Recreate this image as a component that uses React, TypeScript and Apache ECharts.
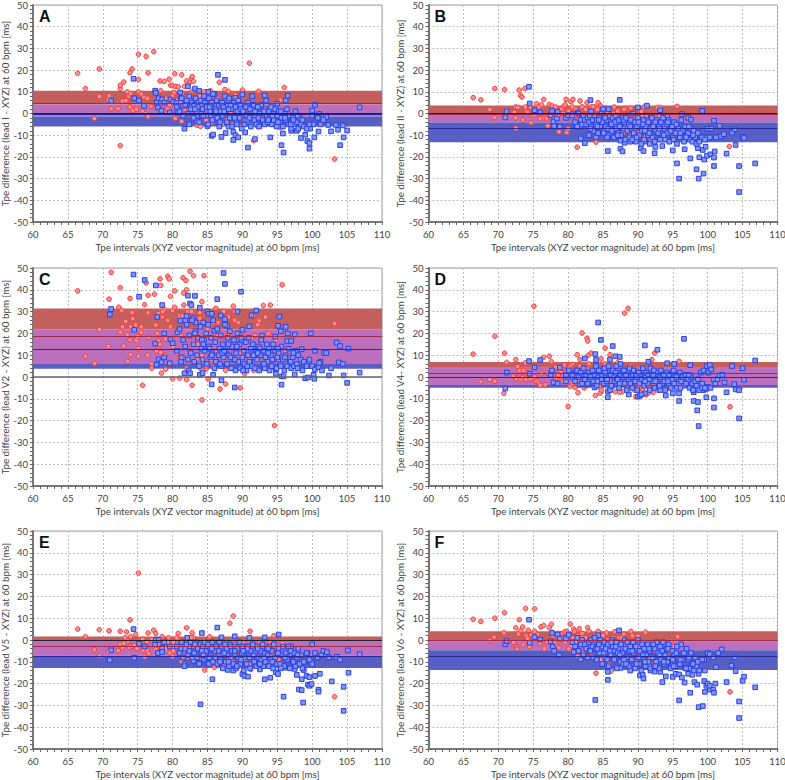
import React, { useEffect, useRef } from "react";
import * as echarts from "echarts";

type Pt = number[];

const panelLetters = ["A", "B", "C", "D", "E", "F"];
const yAxisTitles = [
  "Tpe difference (lead I - XYZ) at 60 bpm [ms]",
  "Tpe difference (lead II - XYZ) at 60 bpm [ms]",
  "Tpe difference (lead V2 - XYZ) at 60 bpm [ms]",
  "Tpe difference (lead V4- XYZ) at 60 bpm [ms]",
  "Tpe difference (lead V5 - XYZ) at 60 bpm [ms]",
  "Tpe difference (lead V6 - XYZ) at 60 bpm [ms]",
];
const xAxisTitle = "Tpe intervals (XYZ vector magnitude) at 60 bpm [ms]";

// redTop, purpleTop, purpleBottom, blueBottom, redMean, blueMean
const bandsA = [10.5, 4.1, -1.4, -6, 4.9, -0.5];
const bandsB = [3.7, -0.6, -4.1, -13.2, -0.2, -6.8];
const bandsC = [31.4, 21.9, 6, 3.8, 18.7, 12.9];
const bandsD = [6.9, 4.6, -3.7, -4.9, 1.7, -0.2];
const bandsE = [1.6, -0.5, -7.2, -12.9, -2.8, -7.3];
const bandsF = [4, -0.8, -4.7, -13.8, -0.2, -7.3];

const redCloudX = [
  77.8, 78.2, 78.6, 79, 79.3, 79.6, 80, 80.3, 80.6, 80.9,
  81.1, 81.4, 81.7, 82, 82.2, 82.5, 82.7, 83, 83.3, 83.6,
  83.9, 84.2, 84.5, 84.8, 85, 85.3, 85.6, 85.9, 86.2, 86.5,
  86.8, 87.1, 87.4, 87.7, 88, 88.3, 88.6, 88.9, 89.2, 89.5,
  89.8, 90.1, 90.4, 90.7, 91, 91.3, 91.6, 91.9, 92.2, 92.5,
  92.8, 93.1, 93.4, 93.7, 94, 94.4, 94.8, 95.2, 78, 80.1,
];
const redCloudA = [3,5,1,7,2,4,8,3,6,1, 5,9,2,7,4,9,3,7,1,5, 8,-1,5,-3,7,2,-4,5,-2,7, 0,-5,4,-3,6,0,-5,3,-2,6, -6,2,-3,5,-1,-5,2,-3,-6,3, -2,3,-4,1,-2,-5,0,-6,3,6];
const redCloudB = [1,3,-1,2,0,4,-2,1,3,-1, 2,-3,1,3,-4,2,-1,-5,1,3, -3,2,-6,0,-2,-8,1,-4,-9,0, -5,1,-3,-8,2,-6,-1,-10,0,-7, -3,-9,-5,-1,-11,-3,-7,-12,-2,-8, -4,-1,-9,-5,-12,-3,-8,-10,-2,1];
const redCloudC = [20,15,30,10,26,6,18,32,13,22, 9,28,16,4,24,12,30,7,20,15, 27,10,18,5,22,14,8,25,12,19, 6,16,24,9,20,4,13,26,7,17, 11,21,5,15,9,18,3,12,24,7, 16,6,13,20,4,10,17,8,27,14];
const redCloudD = [3,-1,1,4,-2,2,0,5,-3,3, 1,-2,5,0,3,-4,2,6,-1,1, 4,-3,0,-6,3,6,-2,1,-5,4, -1,3,-7,2,-3,1,-5,5,-2,-6, 1,-4,3,-6,2,-1,-5,4,-3,0, -6,1,-3,-1,2,-5,0,-3,-2,4];
const redCloudE = [-2,-5,0,-4,-1,-6,-3,-5,1,-4, -7,-1,-3,0,-8,-5,1,-3,-6,-1, -4,-9,0,-6,-3,-11,-1,-7,-4,-10, -2,-6,-11,-1,-8,-4,-10,-2,-7,-12, -5,-1,-9,-3,-11,-6,-2,-8,-4,-12, -2,-7,-4,-10,-1,-6,-3,-9,-2,-5];
const redCloudF = [2,-2,3,0,1,-1,3,-3,1,4, -1,2,0,3,-6,1,-2,4,-7,0, 2,-4,-1,-9,2,-6,0,-11,-3,1, -8,-2,-12,1,-5,-9,-1,-13,2,-6, -10,-3,-7,-1,-12,-4,-8,-2,-11,-5, -1,-9,-4,-11,-2,-7,-5,-3,-1,-4];

const blueCloudX = [
  80.6, 81, 81.3, 81.5, 81.8, 82, 82.2, 82.4, 82.6, 82.8,
  83, 83.1, 83.3, 83.5, 83.6, 83.8, 84, 84.1, 84.3, 84.5,
  84.6, 84.8, 84.9, 85.1, 85.2, 85.4, 85.5, 85.7, 85.8, 86,
  86.1, 86.3, 86.4, 86.6, 86.7, 86.9, 87, 87.2, 87.3, 87.5,
  87.6, 87.8, 87.9, 88.1, 88.2, 88.4, 88.5, 88.7, 88.8, 89,
  89.1, 89.3, 89.4, 89.6, 89.7, 89.9, 90, 90.2, 90.3, 90.5,
  90.6, 90.8, 90.9, 91.1, 91.2, 91.4, 91.5, 91.7, 91.8, 92,
  92.1, 92.3, 92.4, 92.6, 92.7, 92.9, 93, 93.2, 93.3, 93.5,
  93.6, 93.8, 93.9, 94.1, 94.2, 94.4, 94.5, 94.7, 94.9, 95,
  95.2, 95.4, 95.6, 95.8, 96, 96.2, 96.4, 96.6, 96.8, 97,
  97.2, 97.4, 97.6, 97.8, 98, 98.2, 98.4, 98.6, 98.8, 99.2,
  84.2, 85.3, 86.2, 87.1, 88, 88.9, 89.8, 90.7, 91.6, 92.5,
  83.2, 84.4, 85.6, 86.8, 87.4, 88.3, 89.2, 90.1, 91, 92.2,
  93.1, 93.7, 94.3, 95.1, 95.5, 96.1, 96.9, 97.3, 97.9, 99.6,
];
const blueCloudA = [3,1,7,-1,4,6,0,8,2,5, -2,4,7,1,3,-4,6,0,2,8, 5,-1,3,-5,7,1,4,-3,9,0, 2,6,-2,4,-6,1,5,-1,3,8, 0,-4,4,7,-2,2,-6,5,-1,3, -3,1,6,-2,4,-7,2,0,-5,3, -1,5,-4,2,-6,0,4,-3,1,-5, 3,-2,-6,1,4,-3,0,-5,2,-1, -4,1,-2,3,-5,0,-3,2,-6,-1, 1,-4,-2,-6,0,-3,2,-5,-1,-7, -2,-5,1,-4,-7,-2,-5,-3,-6,-7, -1,3,1,5,2,-2,2,-3,4,0, 2,-1,5,-4,1,4,-5,1,-2,3, 1,-3,-1,-4,1,-2,-5,-3,-1,-5];
const blueCloudB = [-1,-4,-6,0,-3,-5,-1,-3,-5,-2, -4,-1,-6,-3,-8,-1,-5,-3,-9,-2, -6,0,-4,-9,-1,-6,-3,-7,-10,-1, -5,-8,-2,-11,-4,-7,-1,-9,-3,-6, -10,-2,-7,-4,-12,-1,-8,-5,-11,-3, -7,0,-9,-4,-13,-6,-2,-10,-5,-14, -8,-3,-12,-6,-1,-10,-4,-14,-7,-2, -11,-5,-13,-8,-3,-9,-6,-12,-4,-10, -2,-7,-12,-5,-9,-3,-13,-8,-6,-11, -4,-9,-14,-7,-11,-3,-8,-13,-6,-10, -9,-12,-7,-13,-8,-11,-14,-9,-13,-11, -6,-2,-5,-10,-3,-6,-11,-5,-9,-4, -7,-3,-11,-1,-6,-2,-12,-4,-8,-6, -7,-10,-4,-12,-5,-9,-11,-6,-10,-12];
const blueCloudC = [12,22,9,17,14,24,8,19,11,26, 15,7,21,10,18,5,23,13,8,17, 12,20,6,24,14,9,18,11,26,4, 16,7,22,10,13,19,5,15,9,24, 12,6,18,10,21,4,14,8,17,3, 11,20,7,15,4,17,9,12,6,16, 3,10,18,7,13,5,15,9,4,12, 8,14,3,10,17,6,12,4,9,15, 7,13,3,10,5,15,8,12,4,9, 11,6,14,8,3,10,5,13,7,4, 9,5,12,6,10,4,8,3,7,5, 17,13,7,11,15,8,18,5,10,13, 20,15,10,6,12,9,14,3,7,11, 6,11,8,13,5,9,7,11,4,8];
const blueCloudD = [1,-2,3,0,2,-3,4,-1,1,-3, 2,-1,0,3,-2,1,5,-4,0,2, 3,-1,1,-3,4,0,-2,2,5,-6, 1,-4,3,0,-2,5,-1,2,-5,1, -2,3,0,-3,1,-6,2,-1,4,0, -4,1,3,-2,0,-6,2,-3,1,-8, -1,3,-4,0,2,-3,1,-6,4,0, -2,3,-5,1,-1,2,-4,0,3,-3, 1,-2,-6,2,0,-3,1,-5,-1,2, -3,1,-5,-1,2,-2,0,-4,1,-3, -1,-5,0,-3,-6,-2,-4,-1,-6,-5, -2,2,-4,-1,3,-3,1,4,-1,-2, 0,3,-1,2,-3,1,-5,2,-2,1, -4,1,-2,3,0,-5,-3,1,-6,-5];
const blueCloudE = [-3,-6,-1,-8,-4,-2,-7,-5,-1,-8, -3,-6,-1,-8,-4,-11,-2,-6,-3,-9, -1,-5,-8,-2,-11,-4,-7,-1,-10,-5, -8,-2,-11,-5,-1,-9,-3,-13,-6,-2, -10,-4,-7,-12,-2,-8,-5,-11,-3,-7, -13,-4,-8,-1,-11,-6,-3,-14,-8,-5, -11,-3,-7,-13,-5,-9,-2,-10,-6,-12, -3,-8,-11,-5,-9,-2,-12,-6,-10,-4, -7,-12,-3,-9,-5,-13,-2,-8,-11,-6, -4,-11,-7,-3,-12,-6,-9,-3,-13,-7, -10,-6,-12,-8,-4,-11,-7,-13,-10,-6, -5,-8,-3,-7,-10,-5,-9,-4,-7,-11, -2,-7,-4,-10,-6,-3,-12,-5,-8,-4, -8,-4,-10,-6,-13,-8,-5,-10,-7,-9];
const blueCloudF = [-1,-3,1,-5,-2,0,-7,-2,-4,-8, -1,-5,0,-3,-8,1,-4,-9,-2,-6, 0,-3,-11,-6,-1,-4,-8,-2,-12,-5, -7,0,-3,-9,-5,-1,-13,-4,-7,-10, -2,-6,-11,0,-4,-8,-1,-12,-5,-3, -9,-1,-6,-13,-3,-8,0,-11,-5,-14, -2,-8,-4,-12,-7,-2,-10,-5,-13,-3, -8,-12,-4,-10,-1,-6,-13,-3,-9,-5, -1,-11,-7,-4,-10,-2,-8,-13,-5,-9, -7,-12,-3,-8,-11,-2,-9,-6,-13,-4, -9,-13,-6,-11,-14,-8,-12,-10,-14,-9, -4,-8,-1,-6,-9,-3,-11,-7,-4,-12, -5,-2,-9,-3,-7,-11,-5,-8,-10,-2, -7,-10,-4,-12,-6,-9,-13,-8,-11,-14];

const redOutA: Pt[] = [[66.4,18.5],[67.5,11.5],[68.8,-2.3],[69.5,20.5],[69.5,7.8],[70.8,6.3],[70.9,8.2],[71.2,2.2],[72.2,2.2],[72.5,11.5],[72.5,13],[72.5,-14.8],[72.8,5.7],[73,14.5],[73.3,6],[73.5,10],[73.7,8],[73.9,3],[73.9,18.8],[74,9.2],[74.2,20.5],[74.3,1.4],[74.6,7],[74.8,2],[75.1,27.3],[75.1,15.7],[75.1,10],[75.5,9],[75.7,1],[75.9,7.5],[76.1,0],[76.2,26.3],[76.4,7],[76.5,18.7],[76.5,-1.3],[76.9,3.3],[77.3,28.5],[77.5,5],[77.5,10],[78.2,15],[78.3,10.5],[78.8,14.8],[79,1],[79,5],[79.5,15.8],[79.7,13],[80,12.8],[80.2,9.5],[80.3,18.3],[80.4,12.5],[80.4,-2.3],[80.8,12.3],[81.3,17.8],[81.3,-3.6],[81.7,12.5],[82,15],[82.5,14.5],[82.7,16],[82.8,17],[82.7,10],[83,14.8],[83.5,-5.4],[84,-6],[84.5,10],[85.4,10.5],[86.7,14.4],[87.5,11],[88,10.2],[89,8.5],[90,10.8],[91,23.2],[91.6,-12.5],[92.3,10.2],[95.5,6.2],[96,12],[96,-0.5],[95.5,-6.5],[103.2,-21]];
const blueOutA: Pt[] = [[71.2,5.8],[74.4,16],[74.5,7],[75.2,6],[75.9,3.5],[77.5,10.5],[77.6,9.5],[77.7,5],[77.9,2.7],[78,7],[78.4,1.3],[78.5,6.5],[78.8,5],[79.6,0.5],[79.7,6.5],[80.1,5.5],[80.5,4.8],[80.7,0.3],[81.1,9.7],[81.2,7],[81.5,3.5],[81.7,-7],[82,4],[82.2,12.5],[82.4,-5],[82.6,6],[83.2,11.5],[83.5,-3.5],[83.8,10.5],[85,-5.8],[85.1,10],[85.6,-10.3],[85.8,-9.7],[86,9],[86.5,17.8],[87,-10.8],[87.5,15.5],[87.6,-9],[88,-6],[88.7,-8.5],[88.7,-12.2],[89,7.2],[89,-10],[89.4,-11],[90,8.8],[90.4,-8.7],[90.8,-15.7],[91.4,8],[91.8,-11.8],[93.2,8.3],[93.4,6],[94,-11],[95,4.5],[95.6,-14.6],[95.8,-9.2],[95.9,-18],[96.2,6],[96.5,8.2],[97,-8],[97.8,-8],[98.4,-11.3],[99,-9.8],[99.3,-12.7],[99.6,-13.6],[99.6,-16.2],[99.7,-7],[100,1.3],[100.3,-11],[100.4,4],[100.9,-8.3],[101,-0.2],[101.2,-5],[102,-1.7],[102.3,-5.3],[102.7,-8.2],[103.4,-5.3],[103.7,-7.5],[104,-14.6],[104.4,-5.5],[104.5,-11],[105,-7.8],[106.8,2.8],[100,-1],[100.2,-5],[100.8,-2],[101.6,-3]];
const redOutB: Pt[] = [[66.4,7.3],[67.5,6.3],[68.8,1.8],[69.5,11.5],[69.5,-1.9],[70.8,-0.8],[70.9,11],[71.2,1.8],[72.3,0.5],[72.5,3],[72.5,-2],[72.5,-6.8],[72.8,2.8],[73,10.8],[73.2,8.3],[73.4,7.6],[73.5,-3],[73.8,11.5],[73.9,3],[74,1],[74.2,0.5],[74.6,3],[74.7,-4.2],[74.9,-0.8],[75.2,-0.5],[75.5,4.5],[75.8,3],[76,-2.4],[76.2,4],[76.5,6.5],[76.6,-2.2],[76.9,-2.5],[77.1,-5.7],[77.3,4.2],[77.7,3.5],[78,2],[78.4,1],[78.7,-8.4],[79,0],[79.4,3.5],[79.7,6.5],[79.8,-8.7],[80,-7],[80.2,1.5],[80.4,5.5],[80.7,6.5],[81,1],[81.3,-15.5],[81.7,5.8],[82,3],[82.4,-2],[82.7,5],[83,-6.5],[83.3,3],[83.8,3],[84,-13.2],[84.3,5],[84.7,3.5],[85.4,2.5],[86,-3],[86.6,3],[87.2,1.5],[87.9,-8.8],[88.2,2.3],[89,2.5],[89.5,0.5],[90.1,-10],[90.5,1],[90.9,3],[91,-5.5],[92.8,2.8],[93.2,2.8],[94,-2],[95.6,3.3],[96,-1],[103.1,-15.2]];
const blueOutB: Pt[] = [[71,-1.8],[71.2,1],[74.4,12.3],[74.5,4.6],[75.2,1.5],[76,0.5],[77.5,-0.8],[77.7,1.2],[77.9,-3.7],[78,-5.8],[78.4,-2.3],[78.5,0.8],[78.8,-6],[79.7,-2],[80,-0.8],[80.6,-0.3],[81,-5],[81.2,-6],[81.4,0.5],[81.7,-6],[81.8,-11.5],[82,-2.5],[82.4,-13.7],[82.8,-4.5],[83,-10],[83.2,6.2],[83.3,1],[84,-6],[84,-11],[84.3,-3],[85,2],[85.2,-8],[85.7,-17.3],[85.8,2],[86.2,-10.5],[87.4,6.3],[87.5,-16.2],[87.5,-12.5],[87.8,-17.5],[88.1,-13.5],[88.9,-13],[89.5,-10],[90,2.8],[90.4,-16],[90.8,-17.3],[91.3,3.6],[91,-13],[92.4,-18.3],[92.5,-15.4],[93.2,1.5],[93.5,-15],[94.2,-1],[95,-17],[95.6,-23],[95.9,-30],[96.3,-0.3],[96.7,-16.5],[97.2,-2],[97.5,-20.7],[97.6,-2.8],[98.4,-25.7],[98.6,-16],[98.7,-30],[98.8,-20.2],[99.2,1.2],[99.3,-16.8],[99.4,-27.7],[99.5,-21.2],[99.7,-15.3],[99.9,-19.5],[100,-7],[100.4,-18.8],[100.5,-7],[100.9,-3.3],[100.9,-24.2],[100.9,-20.3],[101,-17.5],[101.7,-5.7],[102.7,-18.5],[103.5,-8.8],[103.9,-7.3],[104,-14.5],[104.5,-24.2],[104.5,-36.2],[105,-10.8],[105.2,-11.3],[106.8,-23],[99.8,-11],[100.3,-11],[101.2,-11],[101.9,-10.5],[102.3,-9.5]];
const redOutC: Pt[] = [[66.4,39.5],[67.5,9.5],[68.8,6.3],[69.5,21.8],[70.8,14],[70.9,35.7],[71.2,48],[72.3,32],[72.5,41],[72.5,20.5],[72.7,30.5],[72.8,23],[73,14.2],[73.3,25.5],[73.5,19.5],[73.6,7.2],[73.9,36],[73.9,17],[74,23],[74,10.3],[74.2,29.5],[74.3,26.8],[74.7,23.8],[74.8,16.8],[75,18.5],[75.1,13],[75.1,9.5],[75.5,23],[75.5,20.5],[75.7,-3.8],[76,33.2],[76.2,43.2],[76.4,10],[76.5,29.5],[76.5,37.5],[76.6,18.2],[77,6],[77,4],[77.4,38],[77.6,23.8],[77.7,12],[78,29],[78,16.5],[78.2,45],[78.3,42],[78.3,11.2],[78.4,1.8],[78.5,27.5],[78.8,31],[78.8,10],[79,17.5],[79,3.5],[79.3,46.2],[79.5,45],[79.7,23],[79.7,37],[80,30.5],[80,-0.8],[80.3,39.5],[80.6,11],[81,28],[81,-0.5],[81.2,19],[81.5,45.5],[81.6,33],[81.6,38.5],[81.9,44.3],[82,40],[82,-1.2],[82.2,30],[82.5,48.5],[82.8,-3.8],[83,46.5],[83,16],[83.5,8],[83.9,29.5],[84,26],[84.2,34.5],[84,4],[84.2,-10.5],[84.5,46.5],[84.8,3.7],[85.1,-0.9],[85.4,24],[85.8,5],[86.2,31.5],[86.5,25],[86.8,-5.5],[87.3,30],[87.6,-3.2],[87.6,3],[88,27.5],[88.5,4],[88.7,32.5],[88.9,30],[89.4,25],[89.7,-5],[90.3,1.5],[91.6,28],[91.8,19],[92.4,25.7],[92.7,16.5],[93,32.8],[93.3,27.5],[94,33],[94.6,-22.3],[95.7,42.3],[96.2,12],[103.2,24.5]];
const blueOutC: Pt[] = [[71,28.7],[71.2,31.2],[74.4,47],[74.5,21.6],[75.2,36.8],[76,44.5],[77.5,15.3],[77.6,42],[77.7,5.7],[77.8,27.5],[78,8],[78.4,6.8],[78.5,33],[78.8,20],[78.8,9],[79.6,6.3],[79.7,17.3],[80,15.5],[80.7,20.5],[81.1,25.8],[81.2,7],[81.7,1.7],[81.8,26],[82,28],[82.2,37.3],[82.3,3],[82.5,1.7],[82.5,33.7],[82.7,33],[83,27],[83.2,37.2],[83.3,25],[83.9,1],[83.9,31.8],[84.3,1.8],[84.4,25],[85,30],[85.2,29],[85.6,29],[85.6,-3.4],[85.8,1],[86,21.2],[86.4,35.7],[86.9,28.2],[87,-1.5],[87.3,47.7],[87.5,42.7],[87.5,26.5],[87.8,23.5],[88.9,-4.8],[89.3,30],[89.8,39.1],[90,21.7],[91,23.2],[91.3,28.3],[92,30.5],[92.8,19],[94.7,18.5],[94.8,1.5],[94.8,3.5],[95.1,23.5],[95.3,27.7],[95.5,21],[95.6,0.3],[95.6,-3.5],[95.9,0.3],[96.2,23],[96.4,16.5],[96.5,20],[97,16.5],[97.5,19.5],[97.5,1.2],[98.5,12.7],[99,-0.6],[99.4,-0.2],[99.8,20],[100.2,1],[100.3,-0.8],[100.4,12],[101.2,7],[101.7,11],[102,11],[102.4,0.7],[102.7,4],[103.5,15.8],[103.8,6.7],[104,14.2],[104.4,6],[104.5,0.7],[105,-2.7],[105.2,13],[106.8,2],[99.5,7],[100,5],[100.4,3.5],[100.9,4.5],[101,6.5],[101.4,3]];
const redOutD: Pt[] = [[66.4,10.5],[67.5,-2.2],[68.8,-1.2],[69.5,18.7],[69.5,-2],[70.8,-7.5],[70.9,10.9],[71.2,6.7],[72.2,0.4],[72.5,8],[72.6,-0.6],[72.8,4.8],[73,3],[73.2,-1],[73.5,-0.2],[73.6,3],[73.9,6.5],[74,-1.2],[74.2,2],[74.5,-1],[74.7,-0.5],[75.1,32.5],[75.2,0],[75.5,-2],[75.8,-2.8],[76,-3.8],[76.2,1.7],[76.5,9],[76.7,-3.5],[77,1.8],[77.3,9.5],[77.6,7],[77.8,2],[78.2,4.5],[78.5,-0.5],[78.9,2.5],[79.5,5.5],[79.8,3],[80,-13.5],[80.3,-4.2],[80.6,5.8],[81,-4.8],[81.3,10.2],[81.4,-7.2],[81.7,8],[82,20.2],[82.3,-5],[82.7,17.8],[82.8,16.5],[82.9,10],[83.3,11],[83.9,-8.5],[84.6,-7.4],[84.7,8.3],[84.5,-4.5],[85.3,13.2],[86,10.2],[86.8,-6.8],[87.1,6.5],[87.8,-6.7],[88.1,29.3],[88.6,31.5],[89,5.5],[89.7,-9],[90.5,-5],[91.2,-8.2],[91.6,-7],[92,8],[92.2,-7],[92.4,11],[95.9,7.2],[103.2,-13.7]];
const blueOutD: Pt[] = [[71,-5.3],[71.2,2],[74.4,7.3],[74.5,1.5],[75.2,4.4],[76,7.8],[77.5,1],[77.7,3],[77.9,-2.5],[78.5,-3],[78.8,4.3],[79.7,-2],[79.7,1],[80.1,3],[80.6,0],[81,2],[81.2,3],[81.7,-3.5],[82,1],[82.4,8.5],[82.5,-3.5],[83,-3],[83.8,-4.8],[83.9,10.5],[84,7.8],[84.3,25],[84.7,17],[85.7,-9.3],[85.7,-6.6],[86,8],[86.4,14.2],[86.8,9.5],[87.4,9.2],[87.5,6],[88.7,-8],[90,-9],[90.3,-8.6],[91,14.5],[91,-7.5],[91.5,7],[92.8,12.5],[93.2,-6],[94,-8.5],[94.2,6.3],[95,-7.5],[95.2,6],[95.9,-7.5],[95.9,-11],[96.6,17.5],[97.5,5.4],[98,-11],[98.5,-15.3],[98.6,-11.5],[98.7,-22.5],[99,2],[99.4,3],[99.9,5],[99.8,-9.3],[100,-4.5],[100.1,2],[100.3,5.5],[100.5,3.5],[100.9,-1.3],[100.9,-14],[100.9,-9.8],[101.1,-3],[101.4,-1],[101.7,0.7],[102.1,1],[102.4,-2.5],[102.7,-7],[103.5,5],[103.8,-3.3],[104,-5.7],[104.5,-6],[104.5,-19],[105,4],[105.2,-1.3],[106.8,7.6],[98,-7],[98.6,-4],[99.2,-3],[99.4,-6],[99.8,-5.5],[100.4,-5]];
const redOutE: Pt[] = [[66.4,5],[67.5,1.5],[68.8,-4.5],[69.5,4.7],[69.5,-7.2],[70.8,-5.5],[70.9,4.2],[71.2,-3.2],[72.2,-4.8],[72.5,4],[72.5,-2],[72.8,-3.5],[73,-1.5],[73.2,1],[73.4,3.7],[73.6,-0.5],[73.8,-3.3],[73.9,9.2],[74,1.5],[74.2,-3],[74.5,-2.5],[74.7,2.5],[74.9,-4],[75.1,30.7],[75.3,-0.5],[75.7,0.3],[75.8,-4.7],[76,-7.7],[76.3,-0.8],[76.4,-5],[76.5,3.2],[76.6,-6.3],[77,0],[77.3,4.5],[77.6,3],[77.6,-4.2],[78.5,1.5],[78.8,-3],[79.2,-5],[79.4,1],[80,-7.5],[80.1,-1],[80.5,-4],[80.8,3],[81,0],[81.3,-10],[81.6,-1.5],[82,5.6],[82.5,-3],[82.8,3.3],[83,1],[84,-9],[84.6,-13.8],[85.3,1.5],[86,-12.5],[87,-5],[87.4,-6],[88.2,7.7],[88.7,11],[89.6,-5],[90.4,-9],[91.1,4],[91.2,-13.5],[92.5,-1],[94.5,2],[95.7,-1.5],[103.2,-26]];
const blueOutE: Pt[] = [[71,-9.2],[71.2,-4.7],[74.4,5],[74.5,-8.2],[75.2,-1.7],[76,-3],[77.5,-2],[77.6,0],[77.9,-6],[78,0],[78.5,-3.5],[78.5,-5.5],[78.8,-1],[79.6,-3],[81,-6],[81.2,-4],[81.7,-11],[81.7,-12],[82.1,1],[82.3,-6],[83,-9.5],[83.9,-10.5],[84,-29.5],[84.2,3.2],[85,-10.5],[85.7,-18],[86.4,5.7],[87,1.2],[87.9,-13.7],[88.7,-14],[88.9,1.7],[90,-15.6],[90.3,-16.5],[90.8,-16.8],[91,1],[92.5,-13.5],[93.2,1.2],[93.2,-18],[94,-17.3],[94.8,-14.8],[95.1,-15.6],[95.2,2.5],[95.9,-26],[96.2,-12.7],[97,-3],[97.5,-13.3],[97.8,-16],[98.1,-22.7],[98.5,-23],[98.5,-18],[98.7,-28.7],[98.8,-13.8],[99.2,-16.5],[99.4,-20.5],[99.6,-17],[99.6,-21],[99.9,-20.2],[100,-2],[100.4,-16.5],[100.9,-22.8],[100.9,-23.7],[101.1,-15.5],[101.6,-5],[102.1,-5.6],[102.4,-8],[102.8,-19],[103.5,-7.7],[104,-9],[104.5,-21.5],[104.5,-32.5],[105.1,-4.8],[105.2,-15],[106.8,-6.5],[99.3,-6],[99.8,-10],[100,-11],[100.4,-6],[100.8,-8],[101.3,-7]];
const redOutF: Pt[] = [[66.4,9.5],[67.5,8.5],[68.8,-0.2],[69.4,1.3],[69.5,10],[70.8,3.3],[70.9,12.5],[72.2,-1],[72.5,5.6],[72.6,-3.2],[72.7,-4],[72.9,2.7],[73,9.3],[73.2,4.3],[73.5,6],[73.6,-2],[73.9,14.5],[74,2],[74.2,0.8],[74.3,4.5],[74.5,-3],[74.7,2.3],[75,0.5],[75.2,14.3],[75.2,4],[75.6,2.5],[76,-1.5],[76.1,6],[76.5,6.7],[76.6,-4],[77,-1],[77.3,5.7],[77.6,7.2],[77.7,3.5],[78.4,1.5],[78.7,-3.5],[79,3],[79.5,3.7],[79.8,4],[80.3,7.3],[80.4,-4.5],[80.8,5],[81.4,-7.5],[81.6,5.2],[82,1.5],[82.8,5.7],[83,-5.5],[84,-15.2],[84.3,4],[85,-8.5],[85.5,3.3],[86.2,-14.2],[86.7,3.8],[87.3,1],[88,2.7],[89,3.9],[89.7,-7],[90,1.8],[91.1,3.6],[91.7,-11.2],[94.2,-2.5],[94.7,-0.6],[95.7,1.5],[103.2,-23.8]];
const blueOutF: Pt[] = [[71,-2],[71.2,-0.5],[74.4,9.3],[74.5,-1.3],[75.2,1.3],[76,0.2],[77.5,-0.7],[77.7,3.2],[77.8,-3],[78,-5],[78.5,2.5],[78.7,-7],[78.8,0.7],[79.7,0.7],[80.1,2.3],[80.8,-5.5],[81.2,-3],[81.8,-8.8],[83.9,-27.5],[84.3,2.2],[85.7,-14.6],[85.7,-18.3],[87.3,4.4],[87.5,-12.8],[88.9,-14],[90.3,-16.3],[90.7,-16],[90.8,-17.7],[91.8,-14],[92.4,-14.5],[93.2,-14.6],[93.5,-19.3],[94,-16.7],[95,-16.9],[95.4,-15.5],[95.9,-15.8],[95.9,-27.7],[96.3,-17.2],[96.7,-19.5],[97.2,-15.5],[97.5,-24.2],[97.8,-16],[98.1,-19.3],[98.5,-20.5],[98.7,-15.5],[98.7,-30.8],[99.3,-30.3],[99.5,-18.8],[99.6,-23.8],[99.8,-21],[100,-20],[100.3,-22.8],[100.3,-21],[100.8,-22.8],[100.9,-24.2],[101.1,-20],[102,-4.3],[101.2,-12.5],[102.7,-19.3],[103.4,-11.7],[103.9,-8],[104,-14.3],[104.5,-28.2],[104.5,-35.8],[105,-18.7],[105.2,-16.8],[106.8,-21.7],[99.5,-9],[100,-6],[100.3,-6.5],[100.8,-8],[101.5,-6]];

const zip = (xs: number[], ys: number[]): Pt[] => xs.map((x, i) => [x, ys[i]]);

const panels = [
  { bands: bandsA, red: [...redOutA, ...zip(redCloudX, redCloudA)], blue: [...blueOutA, ...zip(blueCloudX, blueCloudA)] },
  { bands: bandsB, red: [...redOutB, ...zip(redCloudX, redCloudB)], blue: [...blueOutB, ...zip(blueCloudX, blueCloudB)] },
  { bands: bandsC, red: [...redOutC, ...zip(redCloudX, redCloudC)], blue: [...blueOutC, ...zip(blueCloudX, blueCloudC)] },
  { bands: bandsD, red: [...redOutD, ...zip(redCloudX, redCloudD)], blue: [...blueOutD, ...zip(blueCloudX, blueCloudD)] },
  { bands: bandsE, red: [...redOutE, ...zip(redCloudX, redCloudE)], blue: [...blueOutE, ...zip(blueCloudX, blueCloudE)] },
  { bands: bandsF, red: [...redOutF, ...zip(redCloudX, redCloudF)], blue: [...blueOutF, ...zip(blueCloudX, blueCloudF)] },
];

const FONT = "Lato";
const gridLefts = [33, 428.5];
const gridTops = [5, 268, 531];
const gridHeights = [217, 218, 218];

function buildOption() {
  const grid: any[] = [];
  const xAxis: any[] = [];
  const yAxis: any[] = [];
  const series: any[] = [];
  const graphic: any[] = [];
  panels.forEach((p, i) => {
    const col = i % 2;
    const row = Math.floor(i / 2);
    const left = gridLefts[col];
    const top = gridTops[row];
    grid.push({
      left, top, width: 349, height: gridHeights[row], show: true, outerBoundsMode: "none",
      backgroundColor: "#fff", borderColor: "#a0a0a0", borderWidth: 1,
    });
    const axisCommon = {
      gridIndex: i,
      nameLocation: "middle",
      nameTextStyle: { fontFamily: FONT, fontSize: 9.8, color: "#444" },
      axisLine: { show: true, onZero: false, lineStyle: { color: "#777", width: 2 } },
      axisTick: { show: true, inside: false, length: 3, lineStyle: { color: "#666", width: 1 } },
      minorTick: { show: true, length: 3, lineStyle: { color: "#666", width: 1 } },
      axisLabel: { fontFamily: FONT, fontSize: 9.5, color: "#444", margin: 5 },
      splitLine: { show: true, lineStyle: { color: "#bdbdbd", type: [2, 2], width: 1 } },
      minorSplitLine: { show: false },
    };
    xAxis.push({
      ...axisCommon, type: "value", min: 60, max: 110, interval: 5,
      axisLabel: { ...axisCommon.axisLabel, margin: 7 },
      minorTick: { ...axisCommon.minorTick, splitNumber: 5 },
      position: "bottom", name: xAxisTitle, nameGap: 20,
    });
    yAxis.push({
      ...axisCommon, type: "value", min: -50, max: 50, interval: 10,
      minorTick: { ...axisCommon.minorTick, splitNumber: 5 },
      position: "left", name: yAxisTitles[i], nameGap: 23,
    });
    const [rt, pt, pb, bb, rm, bm] = p.bands;
    series.push({
      type: "scatter", xAxisIndex: i, yAxisIndex: i, data: [], z: 1, silent: true,
      markArea: {
        silent: true,
        data: [
          [{ yAxis: rt, itemStyle: { color: "#c45f5e" } }, { yAxis: pt }],
          [{ yAxis: pt, itemStyle: { color: "#bc6fbd" } }, { yAxis: pb }],
          [{ yAxis: pb, itemStyle: { color: "#585fc4" } }, { yAxis: bb }],
        ],
      },
      markLine: {
        silent: true, symbol: "none", label: { show: false },
        data: [
          { yAxis: 0, lineStyle: { color: i === 2 ? "#666" : "#222", width: i === 2 ? 1.5 : 1.2, type: "solid" } },
          { yAxis: rm, lineStyle: { color: "#a02a4a", width: 1.2, type: "solid" } },
          { yAxis: bm, lineStyle: { color: "#2a2a9c", width: 1.2, type: "solid" } },
        ],
      },
    });
    series.push({
      type: "scatter", xAxisIndex: i, yAxisIndex: i, z: 3, symbol: "circle", symbolSize: 4.6,
      data: p.red, silent: true,
      itemStyle: { color: "#ff8f8f", borderColor: "#ee3a3a", borderWidth: 1, opacity: 1 },
    });
    series.push({
      type: "scatter", xAxisIndex: i, yAxisIndex: i, z: 4, symbol: "rect", symbolSize: 4.6,
      data: p.blue, silent: true,
      itemStyle: { color: "#7f97fb", borderColor: "#2b3fe0", borderWidth: 1, opacity: 1 },
    });
    graphic.push({
      type: "text", left: left + 6, top: top + 3, z: 10,
      style: { text: panelLetters[i], fontFamily: "Liberation Sans", fontWeight: "bold", fontSize: 16, fill: "#111" },
    });
  });
  return { animation: false, backgroundColor: "#fff", grid, xAxis, yAxis, series, graphic };
}

export default function App() {
  const ref = useRef<HTMLDivElement>(null);
  useEffect(() => {
    const chart = echarts.init(ref.current!, null, { renderer: "svg" });
    chart.setOption(buildOption() as any);
    return () => chart.dispose();
  }, []);
  return <div ref={ref} style={{ position: "absolute", left: 0, top: 0, width: 785, height: 780 }} />;
}
